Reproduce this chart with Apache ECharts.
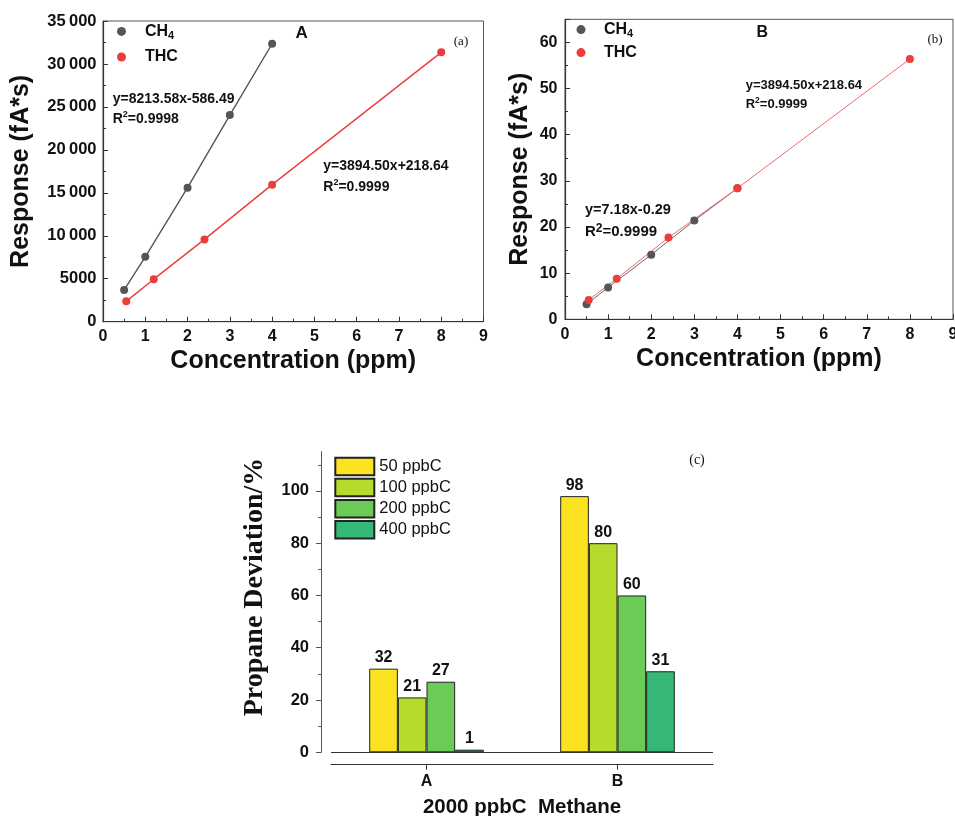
<!DOCTYPE html>
<html>
<head>
<meta charset="utf-8">
<script src="https://cdn.jsdelivr.net/npm/echarts@6/dist/echarts.min.js"></script>
<style>
html,body{margin:0;padding:0;background:#fff;}
#chart{width:955px;height:816px;}
</style>
</head>
<body>
<div id="chart"></div>
<script>
// ---- Panel A data (ppm vs fA*s) ----
const concCH4A = [0.5, 1, 2, 3, 4];
const respCH4A = [3700, 7550, 15600, 24050, 32350];
const concTHCA = [0.55, 1.2, 2.4, 4, 8];
const respTHCA = [2370, 4950, 9580, 15950, 31350];

// ---- Panel B data ----
const concCH4B = [0.5, 1, 2, 3, 4];
const respCH4B = [3.25, 6.9, 14.0, 21.4, 28.4];
const concTHCB = [0.55, 1.2, 2.4, 4, 8];
const respTHCB = [4.2, 8.8, 17.7, 28.4, 56.4];

// ---- Panel C data ----
const categoriesC = ['A', 'B'];
const levelsC = ['50 ppbC', '100 ppbC', '200 ppbC', '400 ppbC'];
const dev50 = [32, 98];
const dev100 = [21, 80];
const dev200 = [27, 60];
const dev400 = [1, 31];
const yTicksC = [0, 20, 40, 60, 80, 100];

// ---- annotation texts ----
const fitA1 = 'y=8213.58x-586.49', r2A1 = '0.9998';
const fitA2 = 'y=3894.50x+218.64', r2A2 = '0.9999';
const fitB1 = 'y=3894.50x+218.64', r2B1 = '0.9999';
const fitB2 = 'y=7.18x-0.29', r2B2 = '0.9999';

const SANS = 'Liberation Sans, Arial, sans-serif';
const SERIF = 'Liberation Serif, Times New Roman, serif';
const GRAY = '#555555';
const RED = '#ec3d3d';
const barColors = ['#fbe322', '#b5dc2c', '#6bcb57', '#35b776'];

const pairs = (xs, ys) => xs.map((x, i) => [x, ys[i]]);

function valueAxisX(grid) {
  return {
    gridIndex: grid, type: 'value', min: 0, max: 9, interval: 1,
    axisLine: {show: true, lineStyle: {color: '#333', width: 1.2}},
    axisTick: {show: true, inside: true, length: 5, lineStyle: {color: '#333'}},
    minorTick: {show: true, splitNumber: 2, length: 3, lineStyle: {color: '#333'}},
    splitLine: {show: false},
    axisLabel: {margin: 7, fontFamily: SANS, fontWeight: 'bold', fontSize: 16, color: '#111'},
    name: 'Concentration (ppm)', nameLocation: 'middle', nameGap: 27,
    nameTextStyle: {fontFamily: SANS, fontWeight: 'bold', fontSize: 25, color: '#111'}
  };
}

const legendRich = {
  m: {fontFamily: SANS, fontWeight: 'bold', fontSize: 16, color: '#111', lineHeight: 20},
  sub: {fontFamily: SANS, fontWeight: 'bold', fontSize: 11, color: '#111', lineHeight: 11, verticalAlign: 'bottom'}
};
const legendFmt = n => n === 'CH4' ? '{m|CH}{sub|4}' : '{m|' + n + '}';

function supText(x, y, pre, val, fs, sfs) {
  return {
    type: 'text', x: x, y: y,
    style: {
      text: '{b|' + pre + '}{s|2}{b|=' + val + '}',
      verticalAlign: 'middle', align: 'left',
      rich: {
        b: {fontFamily: SANS, fontWeight: 'bold', fontSize: fs, fill: '#111', lineHeight: fs + 4},
        s: {fontFamily: SANS, fontWeight: 'bold', fontSize: sfs, fill: '#111', verticalAlign: 'top', lineHeight: sfs}
      }
    }
  };
}
function plainText(x, y, t, fs, fam, weight, align) {
  return {
    type: 'text', x: x, y: y,
    style: {text: t, fontFamily: fam, fontWeight: weight, fontSize: fs, fill: '#111',
      verticalAlign: 'middle', align: align || 'left'}
  };
}

const chart = echarts.init(document.getElementById('chart'), null, {renderer: 'canvas'});

const barSeries = [dev50, dev100, dev200, dev400].map((vals, i) => ({
  name: levelsC[i], type: 'bar', xAxisIndex: 2, yAxisIndex: 2, data: vals,
  barGap: '0%', barCategoryGap: '40%',
  itemStyle: {color: barColors[i], borderColor: '#222', borderWidth: 1},
  label: {show: true, position: 'top', distance: 3, fontFamily: SANS, fontWeight: 'bold', fontSize: 16, color: '#111'}
}));
// zero baseline of panel C
barSeries[0].markLine = {
  silent: true, symbol: ['none', 'none'], label: {show: false},
  lineStyle: {color: '#333', width: 1, type: 'solid'},
  data: [{yAxis: 0}]
};

const option = {
  animation: false,
  backgroundColor: '#fff',
  grid: [
    {left: 103, top: 21, width: 380.5, height: 300.7, show: true, borderColor: '#555', borderWidth: 1, outerBoundsMode: 'none', containLabel: false},
    {left: 565, top: 19.3, width: 388, height: 300, show: true, borderColor: '#555', borderWidth: 1, outerBoundsMode: 'none', containLabel: false},
    {left: 331, top: 451.7, width: 382, height: 300.6, outerBoundsMode: 'none', containLabel: false}
  ],
  legend: [
    {orient: 'vertical', left: 117, top: 23.4, padding: 0, itemWidth: 9, itemHeight: 9, itemGap: 7.6, icon: 'circle',
      data: ['CH4', 'THC'], formatter: legendFmt, textStyle: {padding: [0, 0, 0, 14], rich: legendRich}},
    {orient: 'vertical', left: 576.5, top: 21.6, padding: 0, itemWidth: 9, itemHeight: 9, itemGap: 5, icon: 'circle',
      data: ['CH4', 'THC'], formatter: legendFmt, textStyle: {padding: [0, 0, 0, 13.5], rich: legendRich}},
    {orient: 'vertical', left: 334.3, top: 456.7, padding: 0, itemWidth: 39, itemHeight: 17.5, itemGap: 1.6, icon: 'rect',
      data: levelsC, textStyle: {fontFamily: SANS, fontSize: 16.5, color: '#111'}}
  ],
  xAxis: [
    valueAxisX(0),
    valueAxisX(1),
    {gridIndex: 2, type: 'category', data: categoriesC, position: 'bottom', offset: 11.5,
      axisLine: {show: true, onZero: false, lineStyle: {color: '#333', width: 1}},
      axisTick: {show: true, alignWithLabel: true, length: 6, lineStyle: {color: '#333'}},
      axisLabel: {margin: 10, fontFamily: SANS, fontWeight: 'bold', fontSize: 16, color: '#111'},
      name: '2000 ppbC  Methane', nameLocation: 'middle', nameGap: 33,
      nameTextStyle: {fontFamily: SANS, fontWeight: 'bold', fontSize: 20.5, color: '#111'}}
  ],
  yAxis: [
    {gridIndex: 0, type: 'value', min: 0, max: 35000, interval: 5000,
      axisLine: {show: true, lineStyle: {color: '#333', width: 1.2}},
      axisTick: {show: true, inside: true, length: 5, lineStyle: {color: '#333'}},
      minorTick: {show: true, splitNumber: 2, length: 3, lineStyle: {color: '#333'}},
      splitLine: {show: false},
      axisLabel: {margin: 6.5, fontFamily: SANS, fontWeight: 'bold', fontSize: 16.5, color: '#111',
        formatter: v => v >= 10000 ? Math.floor(v / 1000) + '\u2009000' : String(v)},
      name: 'Response (fA*s)', nameLocation: 'middle', nameGap: 69,
      nameTextStyle: {fontFamily: SANS, fontWeight: 'bold', fontSize: 25, color: '#111'}},
    {gridIndex: 1, type: 'value', min: 0, max: 65, interval: 10,
      axisLine: {show: true, lineStyle: {color: '#333', width: 1.2}},
      axisTick: {show: true, inside: true, length: 5, lineStyle: {color: '#333'}},
      minorTick: {show: true, splitNumber: 2, length: 3, lineStyle: {color: '#333'}},
      splitLine: {show: false},
      axisLabel: {margin: 7.5, fontFamily: SANS, fontWeight: 'bold', fontSize: 16, color: '#111', showMaxLabel: false},
      name: 'Response (fA*s)', nameLocation: 'middle', nameGap: 32,
      nameTextStyle: {fontFamily: SANS, fontWeight: 'bold', fontSize: 25, color: '#111'}},
    {gridIndex: 2, type: 'value', min: 0, max: 115, interval: 20, offset: 10,
      axisLine: {show: true, lineStyle: {color: '#555', width: 1}},
      axisTick: {show: true, inside: false, length: 5, customValues: yTicksC, lineStyle: {color: '#555'}},
      minorTick: {show: true, splitNumber: 2, length: 3, lineStyle: {color: '#555'}},
      splitLine: {show: false},
      axisLabel: {margin: 12, customValues: yTicksC, fontFamily: SANS, fontWeight: 'bold', fontSize: 16.5, color: '#111'},
      name: 'Propane Deviation/%', nameLocation: 'middle', nameGap: 52,
      nameTextStyle: {fontFamily: SERIF, fontWeight: 'bold', fontSize: 28, color: '#111', padding: [0, 0, 0, 30]}}
  ],
  series: [
    {name: 'CH4', type: 'line', xAxisIndex: 0, yAxisIndex: 0, data: pairs(concCH4A, respCH4A),
      symbol: 'circle', symbolSize: 8, color: GRAY, lineStyle: {color: GRAY, width: 1.4}, itemStyle: {color: GRAY}},
    {name: 'THC', type: 'line', xAxisIndex: 0, yAxisIndex: 0, data: pairs(concTHCA, respTHCA),
      symbol: 'circle', symbolSize: 8, color: RED, lineStyle: {color: RED, width: 1.4}, itemStyle: {color: RED}},
    {name: 'CH4', type: 'line', xAxisIndex: 1, yAxisIndex: 1, data: pairs(concCH4B, respCH4B),
      symbol: 'circle', symbolSize: 8, color: GRAY, lineStyle: {color: '#666', width: 1}, itemStyle: {color: GRAY}},
    {name: 'THC', type: 'line', xAxisIndex: 1, yAxisIndex: 1, data: pairs(concTHCB, respTHCB),
      symbol: 'circle', symbolSize: 8, color: RED, lineStyle: {color: '#ee6a6a', width: 1}, itemStyle: {color: RED}}
  ].concat(barSeries),
  graphic: [
    plainText(112.7, 99, fitA1, 14, SANS, 'bold'),
    supText(112.7, 119, 'R', r2A1, 14, 9),
    plainText(323.3, 165.7, fitA2, 14, SANS, 'bold'),
    supText(323.3, 186.7, 'R', r2A2, 14, 9),
    plainText(745.7, 85.3, fitB1, 13, SANS, 'bold'),
    supText(745.7, 104.3, 'R', r2B1, 13, 8.5),
    plainText(585, 210, fitB2, 14.5, SANS, 'bold'),
    supText(585, 232, 'R', r2B2, 15, 12),
    plainText(301.7, 33.3, 'A', 17, SANS, 'bold', 'center'),
    plainText(762.3, 32.3, 'B', 16, SANS, 'bold', 'center'),
    plainText(461, 41.7, '(a)', 13, SERIF, 'normal', 'center'),
    plainText(935, 40, '(b)', 13, SERIF, 'normal', 'center'),
    plainText(697, 460.7, '(c)', 14, SERIF, 'normal', 'center')
  ]
};
chart.setOption(option);
</script>
</body>
</html>
